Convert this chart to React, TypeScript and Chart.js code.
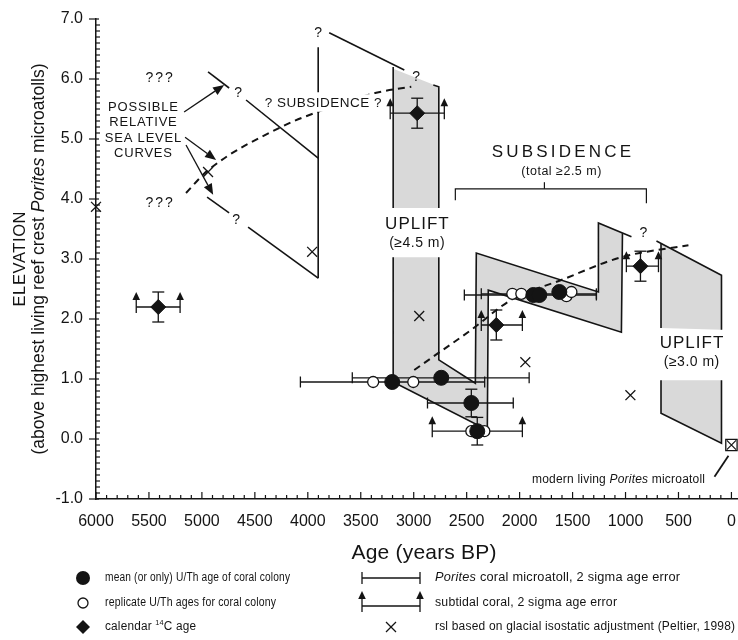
import React, { useEffect, useRef } from 'react';
import { Chart, registerables } from 'chart.js';

Chart.register(...registerables);

type Pair = [number, number];

const FONT = "'Liberation Sans', Arial, Helvetica, sans-serif";
const NARROW = "'Liberation Sans Narrow', 'Arial Narrow', 'Liberation Sans', sans-serif";
const INK = '#141414';
const GREY = '#d9d9d9';

// ---------- axes ----------
const xTickValues = [6000, 5500, 5000, 4500, 4000, 3500, 3000, 2500, 2000, 1500, 1000, 500, 0];
const yTickValues = [-1, 0, 1, 2, 3, 4, 5, 6, 7];
const AGE_MAX = 6000;
const AGE_MIN = -62;
const ELEV_MIN = -1;
const ELEV_MAX = 7;

// ---------- coral data (age years BP, elevation m) ----------
const meanAge = [3203, 2740, 2456, 2400, 1870, 1814, 1625];
const meanElev = [0.95, 1.02, 0.6, 0.13, 2.4, 2.4, 2.45];
const replicateAge = [3383, 3004, 2456, 2333, 2069, 1984, 1558, 1511];
const replicateElev = [0.95, 0.95, 0.13, 0.13, 2.42, 2.42, 2.38, 2.45];
const c14Age = [5412, 2967, 2220, 859];
const c14Elev = [2.2, 5.43, 1.9, 2.88];
const c14AgeOld = [5620, 3222, 2362, 992];
const c14AgeYoung = [5206, 2711, 1974, 689];
const c14ElevErr = [0.25, 0.25, 0.25, 0.25];
const rslAge = [6000, 4942, 3959, 2948, 1946, 954];
const rslElev = [3.87, 4.45, 3.12, 2.05, 1.28, 0.73];
const modernAge = [0];
const modernElev = [-0.1];

// Porites microatoll 2-sigma age error bars
const poritesOld = [4070, 3580, 2870, 2522, 2362];
const poritesYoung = [2330, 1910, 2060, 1275, 1275];
const poritesElev = [0.95, 1.02, 0.6, 2.4, 2.42];
// subtidal coral 2-sigma age error bars (U/Th)
const subtidalOld = [2825];
const subtidalYoung = [1974];
const subtidalElev = [0.13];
// elevation error on U/Th colonies
const elevErrAge = [2456, 2400];
const elevErrMid = [0.6, 0.13];
const elevErrHalf = [0.23, 0.23];

// ---------- possible relative sea level envelopes ----------
const upperCurveA: Pair[] = [[4942, 6.12], [4743, 5.85]];
const upperCurveB: Pair[] = [[4583, 5.65], [3902, 4.68]];
const lowerCurveA: Pair[] = [[4951, 4.03], [4743, 3.77]];
const lowerCurveB: Pair[] = [[4564, 3.53], [3902, 2.68]];
const stepA: Pair[] = [[3902, 6.53], [3902, 5.78]];
const stepB: Pair[] = [[3902, 5.45], [3902, 2.68]];
const topCurve: Pair[] = [[3798, 6.77], [3089, 6.15]];

const uplift1Area: Pair[] = [[3194, 6.17], [2763, 5.87], [2763, 3.85], [3194, 3.85]];
const uplift1Left: Pair[] = [[3194, 6.2], [3194, 3.85]];
const uplift1Right: Pair[] = [[2815, 5.9], [2763, 5.87], [2763, 3.85]];

const subsidenceArea: Pair[] = [
  [3194, 3.03], [3194, 0.95], [2305, 0.15], [2296, 2.48], [1039, 1.78], [1029, 3.43],
  [1256, 3.6], [1256, 2.45], [2409, 3.1], [2418, 0.93], [2763, 1.32], [2763, 3.03],
];
const subsidenceEdgeA: Pair[] = [[3194, 3.03], [3194, 0.95], [2305, 0.15], [2296, 2.48], [1039, 1.78], [1029, 3.43]];
const subsidenceEdgeB: Pair[] = [[944, 3.37], [1256, 3.6], [1256, 2.45], [2409, 3.1], [2418, 0.93], [2763, 1.32], [2763, 3.03]];

const uplift2UpperArea: Pair[] = [[665, 3.26], [94, 2.73], [94, 1.82], [665, 1.85]];
const uplift2UpperEdgeA: Pair[] = [[665, 1.85], [665, 3.26]];
const uplift2UpperEdgeB: Pair[] = [[708, 3.3], [94, 2.73], [94, 1.82]];
const uplift2LowerArea: Pair[] = [[665, 0.98], [94, 0.98], [94, -0.07], [665, 0.43]];
const uplift2LowerEdge: Pair[] = [[665, 0.98], [665, 0.43], [94, -0.07], [94, 0.98]];

const rslCurveEarly: Pair[] = [[5150, 4.1], [4942, 4.48], [4252, 5.2], [3940, 5.43], [3354, 5.77], [3023, 5.87]];
const rslCurveLate: Pair[] = [[2995, 1.15], [2834, 1.35], [2456, 1.82], [2078, 2.32], [1606, 2.65], [1039, 3.03], [406, 3.23]];

const subsidenceBracket: Pair[] = [[2607, 3.98], [2607, 4.17], [803, 4.17], [803, 3.93]];
const subsidenceBracketTick: Pair[] = [[1766, 4.17], [1766, 4.28]];
const modernLeader: Pair[] = [[160, -0.63], [28, -0.28]];

const pointerFrom: Pair[] = [[5168, 5.45], [5159, 5.03], [5150, 4.9]];
const pointerTo: Pair[] = [[4790, 5.9], [4866, 4.65], [4894, 4.07]];

// ---------- annotations ----------
const notes = [
  { text: '???', age: 5404, elev: 6.02, style: 'qqq' },
  { text: '???', age: 5404, elev: 3.93, style: 'qqq' },
  { text: 'POSSIBLE', age: 5556, elev: 5.52, style: 'caps' },
  { text: 'RELATIVE', age: 5556, elev: 5.27, style: 'caps' },
  { text: 'SEA LEVEL', age: 5556, elev: 5.01, style: 'caps' },
  { text: 'CURVES', age: 5556, elev: 4.76, style: 'caps' },
  { text: '?', age: 4658, elev: 5.77, style: 'q' },
  { text: '?', age: 4677, elev: 3.65, style: 'q' },
  { text: '?', age: 3902, elev: 6.77, style: 'q' },
  { text: '?', age: 2976, elev: 6.03, style: 'q' },
  { text: '?', age: 831, elev: 3.43, style: 'q' },
  { text: '? SUBSIDENCE ?', age: 3855, elev: 5.6, style: 'capsBg' },
  { text: 'UPLIFT', age: 2970, elev: 3.57, style: 'big' },
  { text: '(≥4.5 m)', age: 2970, elev: 3.27, style: 'sub' },
  { text: 'SUBSIDENCE', age: 1606, elev: 4.78, style: 'bigWide' },
  { text: '(total ≥2.5 m)', age: 1606, elev: 4.45, style: 'subSmall' },
  { text: 'UPLIFT', age: 377, elev: 1.6, style: 'big' },
  { text: '(≥3.0 m)', age: 377, elev: 1.28, style: 'sub' },
  { text: 'modern living *Porites* microatoll', age: 250, elev: -0.67, style: 'modern' },
];

const noteStyles: any = {
  qqq: { size: 14, spacing: 2, align: 'center' },
  caps: { size: 13, spacing: 0.8, align: 'center' },
  q: { size: 14, spacing: 0, align: 'center' },
  capsBg: { size: 13.5, spacing: 0.5, align: 'center', bg: true },
  big: { size: 17, spacing: 1, align: 'center' },
  sub: { size: 14, spacing: 0.5, align: 'center' },
  bigWide: { size: 17, spacing: 3.2, align: 'center' },
  subSmall: { size: 12.5, spacing: 0.5, align: 'center' },
  modern: { size: 12, spacing: 0.2, align: 'right' },
};

const legendLeft = [
  'mean (or only) U/Th age of coral colony',
  'replicate U/Th ages for coral colony',
  'calendar ^14^C age',
];
const legendRight = [
  '*Porites* coral microatoll, 2 sigma age error',
  'subtidal coral, 2 sigma age error',
  'rsl based on glacial isostatic adjustment (Peltier, 1998)',
];
const legendLeftWidth = [185, 171, 91];
const legendRightWidth = [245, 182, 300];

const yTitle1 = 'ELEVATION';
const yTitle2 = '(above highest living reef crest *Porites* microatolls)';
const xTitle = 'Age (years BP)';

// ---------- helpers ----------
const toPts = (arr: Pair[]) => arr.map(([x, y]) => ({ x, y }));
const zipPts = (xs: number[], ys: number[]) => xs.map((x, i) => ({ x, y: ys[i] }));

function edge(label: string, arr: Pair[], extra: any = {}) {
  return {
    label,
    data: toPts(arr),
    showLine: true,
    pointRadius: 0,
    pointHoverRadius: 0,
    borderColor: INK,
    borderWidth: 1.6,
    backgroundColor: 'transparent',
    fill: false,
    tension: 0,
    order: 80,
    clip: false,
    ...extra,
  };
}
function area(label: string, arr: Pair[]) {
  return {
    label,
    data: toPts(arr),
    showLine: true,
    pointRadius: 0,
    pointHoverRadius: 0,
    borderColor: 'rgba(0,0,0,0)',
    borderWidth: 0,
    backgroundColor: GREY,
    fill: 'shape',
    order: 100,
  };
}

function parseRich(text: string) {
  return text
    .split(/(\*[^*]+\*|\^[^^]+\^)/)
    .filter((s) => s.length > 0)
    .map((s) => {
      if (s.startsWith('*')) return { t: s.slice(1, -1), i: true, sup: false };
      if (s.startsWith('^')) return { t: s.slice(1, -1), i: false, sup: true };
      return { t: s, i: false, sup: false };
    });
}

function drawRich(ctx: any, text: string, x: number, y: number, size: number, family: string, align: string, spacing = 0, bg = false, fitWidth = 0) {
  const parts = parseRich(text);
  ctx.save();
  ctx.textBaseline = 'middle';
  ctx.textAlign = 'left';
  try { ctx.letterSpacing = spacing + 'px'; } catch (e) { /* ignore */ }
  const fontFor = (p: any) => `${p.i ? 'italic ' : ''}${p.sup ? size * 0.62 : size}px ${family}`;
  let total = 0;
  const widths = parts.map((p) => {
    ctx.font = fontFor(p);
    const w = ctx.measureText(p.t).width;
    total += w;
    return w;
  });
  total -= spacing;
  const sx = fitWidth > 0 ? fitWidth / total : 1;
  const shown = total * sx;
  let cx = align === 'left' ? x : align === 'center' ? x - shown / 2 : x - shown;
  if (bg) {
    ctx.fillStyle = '#fff';
    ctx.fillRect(cx - 3, y - size * 0.65, shown + 6, size * 1.3);
  }
  ctx.translate(cx, y);
  ctx.scale(sx, 1);
  ctx.fillStyle = INK;
  let off = 0;
  parts.forEach((p, k) => {
    ctx.font = fontFor(p);
    ctx.fillText(p.t, off, p.sup ? -size * 0.32 : 0);
    off += widths[k];
  });
  ctx.restore();
}

function strokeLine(ctx: any, x1: number, y1: number, x2: number, y2: number) {
  ctx.beginPath();
  ctx.moveTo(x1, y1);
  ctx.lineTo(x2, y2);
  ctx.stroke();
}
function hBar(ctx: any, x1: number, x2: number, y: number, cap: number) {
  strokeLine(ctx, x1, y, x2, y);
  strokeLine(ctx, x1, y - cap, x1, y + cap);
  strokeLine(ctx, x2, y - cap, x2, y + cap);
}
function vBar(ctx: any, x: number, y1: number, y2: number, cap: number) {
  strokeLine(ctx, x, y1, x, y2);
  strokeLine(ctx, x - cap, y1, x + cap, y1);
  strokeLine(ctx, x - cap, y2, x + cap, y2);
}
function upArrow(ctx: any, x: number, y: number) {
  strokeLine(ctx, x, y + 6, x, y - 8);
  ctx.beginPath();
  ctx.moveTo(x, y - 15);
  ctx.lineTo(x + 3.8, y - 7);
  ctx.lineTo(x - 3.8, y - 7);
  ctx.closePath();
  ctx.fill();
}
function subtidalBar(ctx: any, x1: number, x2: number, y: number) {
  strokeLine(ctx, x1, y, x2, y);
  upArrow(ctx, x1, y);
  upArrow(ctx, x2, y);
}
function pointerArrow(ctx: any, x1: number, y1: number, x2: number, y2: number) {
  const ang = Math.atan2(y2 - y1, x2 - x1);
  const L = 11;
  const W = 4.5;
  const bx = x2 - L * Math.cos(ang);
  const by = y2 - L * Math.sin(ang);
  strokeLine(ctx, x1, y1, bx, by);
  ctx.beginPath();
  ctx.moveTo(x2, y2);
  ctx.lineTo(bx + W * Math.sin(ang), by - W * Math.cos(ang));
  ctx.lineTo(bx - W * Math.sin(ang), by + W * Math.cos(ang));
  ctx.closePath();
  ctx.fill();
}
function crossMark(ctx: any, x: number, y: number, r: number) {
  strokeLine(ctx, x - r, y - r, x + r, y + r);
  strokeLine(ctx, x - r, y + r, x + r, y - r);
}

function drawErrorBars(chart: any) {
  const ctx = chart.ctx;
  const X = (v: number) => chart.scales.x.getPixelForValue(v);
  const Y = (v: number) => chart.scales.y.getPixelForValue(v);
  ctx.save();
  ctx.strokeStyle = INK;
  ctx.fillStyle = INK;
  ctx.lineWidth = 1.3;
  poritesOld.forEach((o, i) => hBar(ctx, X(o), X(poritesYoung[i]), Y(poritesElev[i]), 5.5));
  subtidalOld.forEach((o, i) => subtidalBar(ctx, X(o), X(subtidalYoung[i]), Y(subtidalElev[i])));
  c14Age.forEach((a, i) => {
    subtidalBar(ctx, X(c14AgeOld[i]), X(c14AgeYoung[i]), Y(c14Elev[i]));
    vBar(ctx, X(a), Y(c14Elev[i] - c14ElevErr[i]), Y(c14Elev[i] + c14ElevErr[i]), 6);
  });
  elevErrAge.forEach((a, i) => vBar(ctx, X(a), Y(elevErrMid[i] - elevErrHalf[i]), Y(elevErrMid[i] + elevErrHalf[i]), 6));
  ctx.restore();
}

function drawDecor(chart: any) {
  const ctx = chart.ctx;
  const xs = chart.scales.x;
  const ys = chart.scales.y;
  const ca = chart.chartArea;
  const X = (v: number) => xs.getPixelForValue(v);
  const Y = (v: number) => ys.getPixelForValue(v);

  ctx.save();
  ctx.strokeStyle = INK;
  ctx.fillStyle = INK;
  ctx.lineWidth = 1.2;
  // minor / major ticks
  for (let a = 0; a <= AGE_MAX; a += 100) {
    const px = X(a);
    const major = a % 500 === 0;
    strokeLine(ctx, px, ca.bottom, px, ca.bottom - (major ? 7 : 4));
  }
  for (let k = ELEV_MIN * 10; k <= ELEV_MAX * 10; k++) {
    const py = Y(k / 10);
    if (k % 10 === 0) strokeLine(ctx, ca.left - 7, py, ca.left + 3, py);
    else strokeLine(ctx, ca.left, py, ca.left + 4, py);
  }

  // pointer arrows
  ctx.lineWidth = 1.3;
  pointerFrom.forEach(([a, e], i) => pointerArrow(ctx, X(a), Y(e), X(pointerTo[i][0]), Y(pointerTo[i][1])));
  ctx.restore();

  // notes
  notes.forEach((n) => {
    const st = noteStyles[n.style];
    drawRich(ctx, n.text, X(n.age), Y(n.elev), st.size, FONT, st.align, st.spacing, !!st.bg);
  });

  // axis titles
  drawRich(ctx, xTitle, 424, 553, 21, FONT, 'center', 0.2);
  const midY = (ca.top + ca.bottom) / 2;
  ctx.save();
  ctx.translate(20, midY);
  ctx.rotate(-Math.PI / 2);
  drawRich(ctx, yTitle1, 0, 0, 16.5, FONT, 'center', 0.6);
  ctx.restore();
  ctx.save();
  ctx.translate(39, midY);
  ctx.rotate(-Math.PI / 2);
  drawRich(ctx, yTitle2, 0, 0, 17.5, FONT, 'center', 0);
  ctx.restore();

  // legend
  const rows = [578, 603, 627];
  ctx.save();
  ctx.strokeStyle = INK;
  ctx.fillStyle = INK;
  ctx.lineWidth = 1.3;
  ctx.beginPath();
  ctx.arc(83, rows[0], 7, 0, Math.PI * 2);
  ctx.fill();
  ctx.beginPath();
  ctx.arc(83, rows[1], 5, 0, Math.PI * 2);
  ctx.stroke();
  ctx.beginPath();
  ctx.moveTo(83, rows[2] - 7);
  ctx.lineTo(90, rows[2]);
  ctx.lineTo(83, rows[2] + 7);
  ctx.lineTo(76, rows[2]);
  ctx.closePath();
  ctx.fill();
  hBar(ctx, 362, 420, rows[0], 6);
  subtidalBar(ctx, 362, 420, rows[1] + 3);
  crossMark(ctx, 391, rows[2], 5);
  ctx.restore();
  legendLeft.forEach((t, i) => drawRich(ctx, t, 105, rows[i], 12.5, NARROW, 'left', 0.2, false, legendLeftWidth[i]));
  legendRight.forEach((t, i) => drawRich(ctx, t, 435, rows[i], 12.5, NARROW, 'left', 0.2, false, legendRightWidth[i]));
}

const decorPlugin = {
  id: 'figureDecor',
  beforeDatasetDraw(chart: any, args: any) {
    const ds = chart.data.datasets[args.index];
    if (ds && ds.label === 'calendar 14C age') drawErrorBars(chart);
  },
  afterDraw(chart: any) {
    drawDecor(chart);
  },
};

export default function App() {
  const ref = useRef<HTMLCanvasElement>(null);

  useEffect(() => {
    if (!ref.current) return;
    const datasets: any[] = [
      area('uplift1', uplift1Area),
      area('subsidence', subsidenceArea),
      area('uplift2 upper', uplift2UpperArea),
      area('uplift2 lower', uplift2LowerArea),
      edge('upperA', upperCurveA),
      edge('upperB', upperCurveB),
      edge('lowerA', lowerCurveA),
      edge('lowerB', lowerCurveB),
      edge('stepA', stepA),
      edge('stepB', stepB),
      edge('top', topCurve),
      edge('uplift1 left', uplift1Left),
      edge('uplift1 right', uplift1Right),
      edge('subsidence edge A', subsidenceEdgeA),
      edge('subsidence edge B', subsidenceEdgeB),
      edge('uplift2 upper A', uplift2UpperEdgeA),
      edge('uplift2 upper B', uplift2UpperEdgeB),
      edge('uplift2 lower', uplift2LowerEdge),
      edge('bracket', subsidenceBracket, { borderWidth: 1.2 }),
      edge('bracket tick', subsidenceBracketTick, { borderWidth: 1.2 }),
      edge('leader', modernLeader, { borderWidth: 1.8 }),
      edge('rsl early', rslCurveEarly, { borderDash: [7, 5], borderWidth: 2, cubicInterpolationMode: 'monotone', order: 70 }),
      edge('rsl late', rslCurveLate, { borderDash: [7, 5], borderWidth: 2, cubicInterpolationMode: 'monotone', order: 70 }),
      {
        label: 'rsl GIA',
        data: zipPts(rslAge, rslElev),
        showLine: false,
        clip: false,
        pointStyle: 'crossRot',
        pointRadius: 7,
        pointBorderColor: INK,
        pointBorderWidth: 1.3,
        order: 60,
      },
      {
        label: 'modern box',
        data: zipPts(modernAge, modernElev),
        showLine: false,
        clip: false,
        pointStyle: 'rect',
        pointRadius: 8,
        pointBackgroundColor: '#fff',
        pointBorderColor: INK,
        pointBorderWidth: 1.3,
        order: 58,
      },
      {
        label: 'modern cross',
        data: zipPts(modernAge, modernElev),
        showLine: false,
        clip: false,
        pointStyle: 'crossRot',
        pointRadius: 6.5,
        pointBorderColor: INK,
        pointBorderWidth: 1.2,
        order: 57,
      },
      {
        label: 'calendar 14C age',
        data: zipPts(c14Age, c14Elev),
        showLine: false,
        clip: false,
        pointStyle: 'rectRot',
        pointRadius: 7.5,
        pointBackgroundColor: INK,
        pointBorderColor: INK,
        pointBorderWidth: 1,
        order: 30,
      },
      {
        label: 'replicate U/Th',
        data: zipPts(replicateAge, replicateElev),
        showLine: false,
        clip: false,
        pointStyle: 'circle',
        pointRadius: 5.5,
        pointBackgroundColor: '#fff',
        pointBorderColor: INK,
        pointBorderWidth: 1.3,
        order: 25,
      },
      {
        label: 'mean U/Th',
        data: zipPts(meanAge, meanElev),
        showLine: false,
        clip: false,
        pointStyle: 'circle',
        pointRadius: 7.5,
        pointBackgroundColor: INK,
        pointBorderColor: INK,
        pointBorderWidth: 1,
        order: 20,
      },
    ];

    const chart = new Chart(ref.current, {
      type: 'scatter',
      data: { datasets },
      options: {
        animation: false,
        responsive: false,
        devicePixelRatio: 1,
        events: [],
        layout: { autoPadding: false, padding: { top: 19, left: 0, right: 0, bottom: 0 } },
        plugins: {
          legend: { display: false },
          tooltip: { enabled: false },
          title: { display: false },
        },
        scales: {
          x: {
            type: 'linear',
            reverse: true,
            min: AGE_MIN,
            max: AGE_MAX,
            afterBuildTicks: (s: any) => {
              s.ticks = xTickValues.map((v) => ({ value: v }));
            },
            afterFit: (s: any) => {
              s.height = 141;
              s.paddingLeft = 0;
              s.paddingRight = 0;
            },
            grid: { display: false },
            border: { display: true, color: INK, width: 1.5 },
            ticks: {
              color: INK,
              font: { family: FONT, size: 16 },
              padding: 5,
              maxRotation: 0,
              autoSkip: false,
              callback: (v: any) => String(v),
            },
            title: { display: false, text: xTitle },
          },
          y: {
            type: 'linear',
            min: ELEV_MIN,
            max: ELEV_MAX,
            afterBuildTicks: (s: any) => {
              s.ticks = yTickValues.map((v) => ({ value: v }));
            },
            afterFit: (s: any) => {
              s.width = 96;
              s.paddingTop = 0;
              s.paddingBottom = 0;
            },
            grid: { display: false },
            border: { display: true, color: INK, width: 1.5 },
            ticks: {
              color: INK,
              font: { family: FONT, size: 16 },
              padding: 5,
              callback: (v: any) => Number(v).toFixed(1),
            },
          },
        },
      } as any,
      plugins: [decorPlugin as any],
    } as any);

    return () => chart.destroy();
  }, []);

  return (
    <div style={{ position: 'fixed', left: 0, top: 0, width: 738, height: 640, background: '#fff' }}>
      <canvas ref={ref} width={738} height={640} style={{ display: 'block', width: 738, height: 640 }} />
    </div>
  );
}
